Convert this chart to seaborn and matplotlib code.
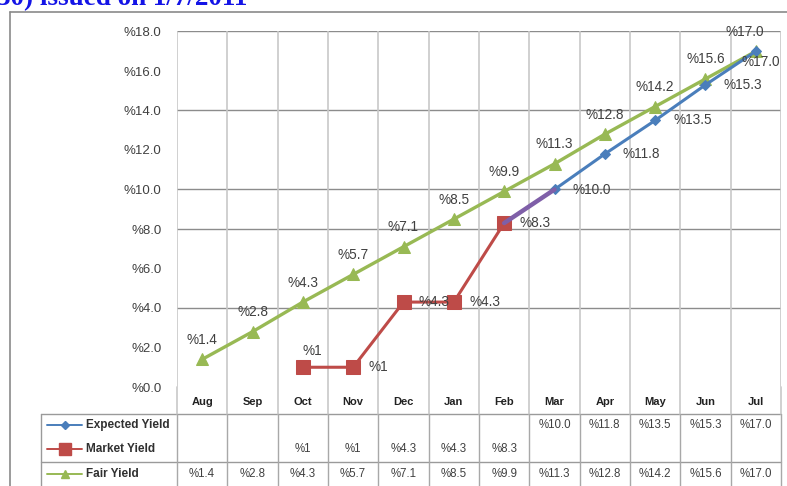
import numpy as np
import pandas as pd
import matplotlib
matplotlib.use("Agg")
import matplotlib.pyplot as plt
import seaborn as sns
from matplotlib.lines import Line2D

# ---------------- data ----------------
months = ["Aug", "Sep", "Oct", "Nov", "Dec", "Jan", "Feb", "Mar", "Apr", "May", "Jun", "Jul"]
expected = [np.nan, np.nan, np.nan, np.nan, np.nan, np.nan, np.nan, 10.0, 11.8, 13.5, 15.3, 17.0]
market = [np.nan, np.nan, 1.0, 1.0, 4.3, 4.3, 8.3, np.nan, np.nan, np.nan, np.nan, np.nan]
fair = [1.4, 2.8, 4.3, 5.7, 7.1, 8.5, 9.9, 11.3, 12.8, 14.2, 15.6, 17.0]
yticks = [0, 2, 4, 6, 8, 10, 12, 14, 16, 18]
title_text = "30) issued on 1/7/2011"
series_names = ["Expected Yield", "Market Yield", "Fair Yield"]

def fmt_val(v):
    if np.isnan(v):
        return ""
    if float(v).is_integer() and v < 2:
        return f"%{int(v)}"
    return f"%{v:.1f}"

# ---------------- styling ----------------
sns.set_theme(style="white")
plt.rcParams["font.family"] = ["Liberation Sans", "DejaVu Sans"]

C_EXP = "#4a7ebb"
C_MKT = "#be4b48"
C_FAIR = "#98b954"
C_PURP = "#7f5fa8"
TXT = "#404040"

W, H = 787, 486
fig = plt.figure(figsize=(W / 100, H / 100), dpi=100)

x0, x1 = 177, 781
ytop, ybot = 31.5, 387
ax = fig.add_axes([x0 / W, 1 - ybot / H, (x1 - x0) / W, (ybot - ytop) / H])
ax.set_xlim(-0.5, 11.5)
ax.set_ylim(0, 18)

idx = np.arange(len(months))
df = pd.DataFrame({"idx": idx, "Expected": expected, "Market": market, "Fair": fair})

# gridlines
for v in [4, 8, 10, 14, 18]:
    ax.axhline(v, color="#8c8c8c", lw=1.0, zorder=0)
for k in range(13):
    ax.axvline(k - 0.5, color="#c8c8c8", lw=1.2, zorder=0)

for s in ax.spines.values():
    s.set_visible(False)

sns.lineplot(data=df, x="idx", y="Fair", ax=ax, color=C_FAIR, lw=2.4,
             marker="^", markersize=9, markeredgecolor=C_FAIR, zorder=3)
sns.lineplot(data=df.dropna(subset=["Market"]), x="idx", y="Market", ax=ax, color=C_MKT, lw=2.2,
             marker="s", markersize=9.5, markeredgecolor=C_MKT, zorder=4)
sns.lineplot(data=df.dropna(subset=["Expected"]), x="idx", y="Expected", ax=ax, color=C_EXP, lw=2.2,
             marker="D", markersize=5.5, markeredgecolor=C_EXP, zorder=4)
# purple connector between last market and first expected
mi = int(np.nanargmax(np.where(np.isnan(market), -1, idx)))
ei = int(np.nanargmin(np.where(np.isnan(expected), 99, idx)))
ax.plot([idx[mi], idx[ei]], [market[mi], expected[ei]], color=C_PURP, lw=3.2,
        solid_capstyle="round", zorder=5)

# data labels
lab_kw = dict(fontsize=9.8, color=TXT, zorder=6)
for i, v in enumerate(fair):
    dx = -8 if i == len(fair) - 1 else 0
    ax.annotate(fmt_val(v), (i, v), xytext=(dx, 9), textcoords="offset points",
                ha="center", va="bottom", **lab_kw)
for i, v in enumerate(market):
    if np.isnan(v):
        continue
    if i == 2:
        ax.annotate(fmt_val(v), (i, v), xytext=(7, 7), textcoords="offset points",
                    ha="center", va="bottom", **lab_kw)
    else:
        ax.annotate(fmt_val(v), (i, v), xytext=(11, 0), textcoords="offset points",
                    ha="left", va="center", **lab_kw)
for i, v in enumerate(expected):
    if np.isnan(v):
        continue
    dy = -8 if i == len(expected) - 1 else 0
    dx = -10 if i == len(expected) - 1 else 13
    ax.annotate(fmt_val(v), (i, v), xytext=(dx, dy), textcoords="offset points",
                ha="left", va="center", **lab_kw)

ax.set_yticks(yticks)
ax.set_yticklabels([f"%{v:.1f}" for v in yticks], fontsize=9.5, color=TXT)
ax.set_xticks(idx)
ax.set_xticklabels(months, fontsize=8, fontweight="bold", color="#222222")
ax.tick_params(axis="y", length=0, pad=11)
ax.tick_params(axis="x", length=0, pad=7)
ax.set_xlabel("")
ax.set_ylabel("")

# ---------------- overlay (border, title, data table) ----------------
ov = fig.add_axes([0, 0, 1, 1], zorder=-1)
ov.set_xlim(0, W)
ov.set_ylim(H, 0)
ov.axis("off")
ov.patch.set_alpha(0)

# chart border
ov.plot([10, 10], [12, H], color="#8a8a8a", lw=1.2)
ov.plot([10, W], [12, 12], color="#8a8a8a", lw=1.2)

# title (clipped at top, as in the source image)
fig.text(-0.004, 1 - 5.5 / H, title_text, fontsize=19.5, fontweight="bold",
         family=["Liberation Serif", "DejaVu Serif"], color="#1414e6", va="baseline", ha="left")

cw = (x1 - x0) / len(months)
t_left, t_top, t_mid = 41, 414, 462
ov.plot([t_left, x1], [t_top, t_top], color="#9a9a9a", lw=1.0)
ov.plot([t_left, x1], [t_mid, t_mid], color="#9a9a9a", lw=1.0)
ov.plot([t_left, t_left], [t_top, H], color="#9a9a9a", lw=1.0)
for k in range(len(months) + 1):
    xx = x0 + k * cw
    ov.plot([xx, xx], [ybot, t_top], color="#c8c8c8", lw=1.2)
    ov.plot([xx, xx], [t_top, H], color="#a8a8a8", lw=1.0)

row_y = [425, 449, 474]
colors = [C_EXP, C_MKT, C_FAIR]
mk = [("D", 4), ("s", 8), ("^", 6)]
rows = [expected, market, fair]
for r, (name, col, (m, ms), vals, yy) in enumerate(zip(series_names, colors, mk, rows, row_y)):
    ov.add_line(Line2D([47, 82], [yy, yy], color=col, lw=1.4))
    ov.plot([64.5], [yy], marker=m, markersize=ms, color=col, markeredgecolor=col)
    ov.text(86, yy, name, fontsize=8.5, fontweight="bold", color="#303030",
            va="center", ha="left")
    for i, v in enumerate(vals):
        ov.text(x0 + (i + 0.5) * cw, yy, fmt_val(v), fontsize=8.3, color=TXT,
                va="center", ha="center")

fig.savefig("out.png", dpi=100, facecolor="white")
